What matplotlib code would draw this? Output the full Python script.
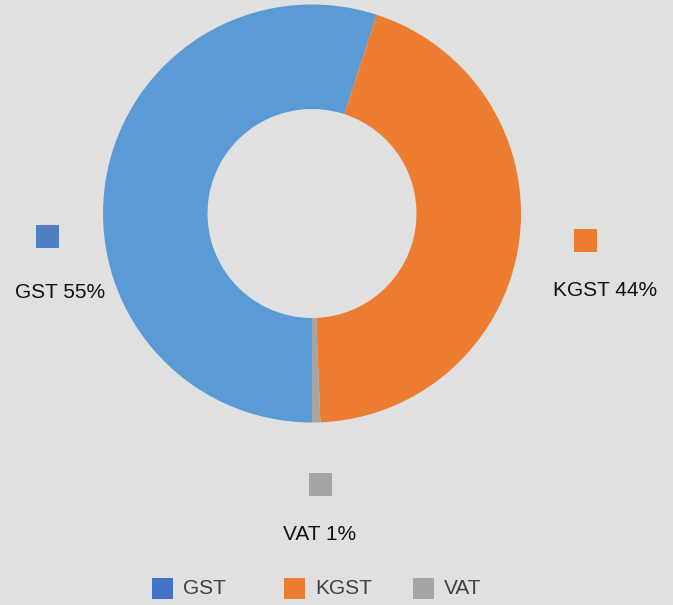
import matplotlib.pyplot as plt
from matplotlib.patches import Rectangle

plt.rcParams['font.family'] = ['Liberation Sans', 'DejaVu Sans']

# data
taxes = ['GST', 'KGST', 'VAT']
shares = [55.0, 44.36, 0.64]
slice_colors = ['#5B9BD5', '#ED7D31', '#A5A5A5']
marker_colors = ['#4F7FC0', '#ED7D31', '#A5A5A5']
legend_colors = ['#4472C4', '#ED7D31', '#A5A5A5']

W, H = 673, 605
bg = '#E0E0E0'

fig = plt.figure(figsize=(W / 100, H / 100), dpi=100, facecolor=bg)

# donut: centre (312, 213.5) px, radius 209 px
cx, cy, r = 312, 213.5, 209
ax = fig.add_axes([(cx - r) / W, (H - cy - r) / H, 2 * r / W, 2 * r / H])
ax.pie(shares, colors=slice_colors, startangle=-90, counterclock=False,
       radius=1, wedgeprops=dict(width=0.5, linewidth=0))
ax.set_xlim(-1, 1)
ax.set_ylim(-1, 1)
ax.set_facecolor(bg)


def fx(x):
    return x / W


def fy(y):
    return 1 - y / H


# data labels (marker square above text)
label_pos = [(47, 236, 60, 292), (585, 240, 605, 291), (320, 484, 320, 535)]
for name, val, col, (mx, my, tx, ty) in zip(taxes, shares, marker_colors, label_pos):
    s = 23
    fig.add_artist(Rectangle((fx(mx - s / 2), fy(my + s / 2)), s / W, s / H,
                             transform=fig.transFigure, facecolor=col,
                             edgecolor='none'))
    fig.text(fx(tx), fy(ty), f'{name} {round(val)}%', fontsize=15,
             ha='center', va='center', color='#111111')

# legend along the bottom
leg_x = [152, 284, 413]
for name, col, lx in zip(taxes, legend_colors, leg_x):
    s = 21
    fig.add_artist(Rectangle((fx(lx), fy(588 + s / 2)), s / W, s / H,
                             transform=fig.transFigure, facecolor=col,
                             edgecolor='none'))
    fig.text(fx(lx + 31), fy(589), name, fontsize=15, ha='left',
             va='center', color='#404040')

fig.savefig('out.png', dpi=100, facecolor=bg)
